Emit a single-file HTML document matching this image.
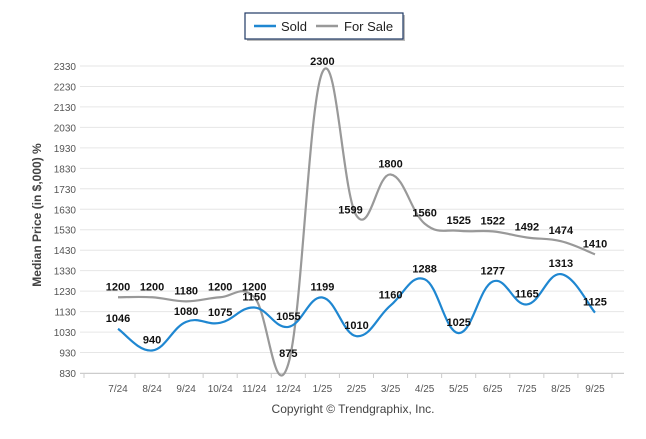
<!DOCTYPE html>
<html><head><meta charset="utf-8"><style>
body{margin:0;background:#fff;font-family:"Liberation Sans",sans-serif}
svg text{font-family:"Liberation Sans",sans-serif}
</style></head><body>
<svg width="646" height="434">
<g>
<rect x="247" y="15" width="158" height="26" fill="#bbb"/>
<rect x="245" y="13" width="158" height="26" fill="#fff" stroke="#1f3864" stroke-width="1.2"/>
<line x1="254" y1="26" x2="276" y2="26" stroke="#1f87d1" stroke-width="2.5"/>
<text x="281" y="31" font-size="13" fill="#222">Sold</text>
<line x1="316" y1="26" x2="338" y2="26" stroke="#999" stroke-width="2.5"/>
<text x="344" y="31" font-size="13" fill="#222">For Sale</text>
</g>
<g id="grid"></g>
<g id="series"></g>
<g id="labels"></g>
<text transform="translate(41,215) rotate(-90)" text-anchor="middle" font-size="12" font-weight="bold" fill="#444">Median Price (in $,000) %</text>
<text x="353" y="413" text-anchor="middle" font-size="12" fill="#444">Copyright © Trendgraphix, Inc.</text>
</svg>
<script>
const categories=["7/24","8/24","9/24","10/24","11/24","12/24","1/25","2/25","3/25","4/25","5/25","6/25","7/25","8/25","9/25"];
const sold=[1046,940,1080,1075,1150,1055,1199,1010,1160,1288,1025,1277,1165,1313,1125];
const forSale=[1200,1200,1180,1200,1200,875,2300,1599,1800,1560,1525,1522,1492,1474,1410];
const yTicks=[830,930,1030,1130,1230,1330,1430,1530,1630,1730,1830,1930,2030,2130,2230,2330];
const NS="http://www.w3.org/2000/svg";
const x=i=>118+i*34.07;
const y=v=>373-(v-830)*(307/1500);
function mk(tag,attrs,parent){const e=document.createElementNS(NS,tag);for(const k in attrs)e.setAttribute(k,attrs[k]);parent.appendChild(e);return e;}
const grid=document.getElementById('grid');
yTicks.forEach(t=>{
 const l=mk('line',{x1:80,x2:624,y1:y(t),y2:y(t),stroke:'#e6e6e6'},grid);
 
 
 const tx=mk('text',{x:76,y:y(t)+4,'text-anchor':'end','font-size':10,fill:'#555'},grid);
 
 
 tx.textContent=t;
});
const ax=mk('line',{x1:80,x2:624,y1:373.5,y2:373.5,stroke:'#ccc'},grid);


mk('line',{x1:84,x2:84,y1:373,y2:378,stroke:'#ccc'},grid);
categories.forEach((c,i)=>{
 mk('line',{x1:x(i)+17,x2:x(i)+17,y1:373,y2:378,stroke:'#ccc'},grid);
 const t=mk('text',{x:x(i),y:392,'text-anchor':'middle','font-size':10,fill:'#555'},grid);
 
 
 t.textContent=c;
});
function path(vals){
 const p=vals.map((v,i)=>[x(i),y(v)]);
 let d='M'+p[0][0]+','+p[0][1];
 for(let i=0;i<p.length-1;i++){
  const p0=p[Math.max(0,i-1)],p1=p[i],p2=p[i+1],p3=p[Math.min(p.length-1,i+2)];
  const k=1/5;
  d+=' C'+(p1[0]+(p2[0]-p0[0])*k)+','+(p1[1]+(p2[1]-p0[1])*k)+' '+(p2[0]-(p3[0]-p1[0])*k)+','+(p2[1]-(p3[1]-p1[1])*k)+' '+p2[0]+','+p2[1];
 }
 return d;
}
const sg=document.getElementById('series');
const fs=mk('path',{d:path(forSale),fill:'none',stroke:'#999','stroke-width':2.2},sg);


const sl=mk('path',{d:path(sold),fill:'none',stroke:'#1f87d1','stroke-width':2.2},sg);


const lg=document.getElementById('labels');
function labels(vals,name,dy){
 vals.forEach((v,i)=>{
  const yy=y(v)+(dy[i]!==undefined?dy[i]:-7);
  const xx=x(i)+(name.startsWith('for')&&i===7?-6:0);
  const t=mk('text',{x:xx,y:yy,'text-anchor':'middle','font-size':11,'font-weight':'bold',fill:'#111'},lg);
  
  
  t.textContent=v;
 });
}
labels(forSale,'for-sale-value-label',{7:-2});
labels(sold,'sold-value-label',{});
</script>
</body></html>
